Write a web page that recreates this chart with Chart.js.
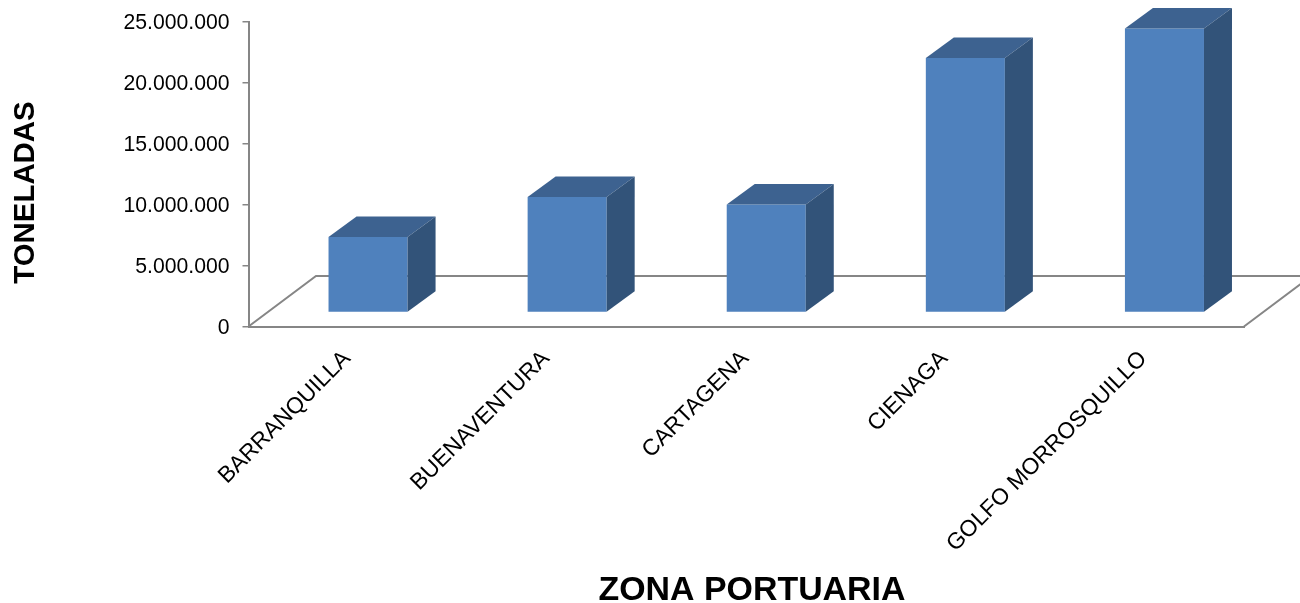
<!DOCTYPE html>
<html><head><meta charset="utf-8">
<style>html,body{margin:0;padding:0;background:#fff}#w{width:1300px;height:603px;position:relative}</style>
<script src="https://cdn.jsdelivr.net/npm/chart.js@4"></script></head>
<body><div id="w"><canvas id="c"></canvas></div>
<script>
const categories = ["BARRANQUILLA","BUENAVENTURA","CARTAGENA","CIENAGA","GOLFO MORROSQUILLO"];
const toneladas = [6190000,9470000,8850000,20860000,23280000];
const yTitle = "TONELADAS";
const xTitle = "ZONA PORTUARIA";
const FONT = '"Liberation Sans", Arial, sans-serif';
const AXIS = '#868686';
const FRONT = '#4F81BD', TOP = '#3D6290', SIDE = '#325379';
const FLOOR = {dx:67.5, dy:50.5}, SHIFT = {dx:20, dy:14}, BAR = {dx:28, dy:20.5};

function poly(ctx, pts, fill){ctx.beginPath();pts.forEach((p,i)=>i?ctx.lineTo(p[0],p[1]):ctx.moveTo(p[0],p[1]));ctx.closePath();ctx.fillStyle=fill;ctx.fill();}

const depth3d = {
  id:'depth3d',
  beforeDatasetsDraw(chart){
    const {ctx,chartArea:a}=chart;
    ctx.save();
    ctx.strokeStyle=AXIS;ctx.lineWidth=2;
    ctx.beginPath();
    ctx.moveTo(a.left,a.bottom);ctx.lineTo(a.left+FLOOR.dx,a.bottom-FLOOR.dy);
    ctx.lineTo(a.right+FLOOR.dx,a.bottom-FLOOR.dy);ctx.lineTo(a.right,a.bottom);
    ctx.stroke();
    ctx.restore();
    ctx.save();
    ctx.translate(SHIFT.dx,-SHIFT.dy);
  },
  afterDatasetsDraw(chart){
    const {ctx}=chart;
    chart.getDatasetMeta(0).data.forEach(b=>{
      const p=b.getProps(['x','y','base','width'],true);
      const l=p.x-p.width/2,r=p.x+p.width/2;
      poly(ctx,[[l,p.y],[r,p.y],[r+BAR.dx,p.y-BAR.dy],[l+BAR.dx,p.y-BAR.dy]],TOP);
      poly(ctx,[[r,p.y],[r+BAR.dx,p.y-BAR.dy],[r+BAR.dx,p.base-BAR.dy],[r,p.base]],SIDE);
    });
    ctx.restore();
  },
  afterDraw(chart){
    const {ctx}=chart;
    ctx.save();
    ctx.fillStyle='#000';ctx.textAlign='center';ctx.textBaseline='middle';
    ctx.font='bold 33.9px '+FONT;
    ctx.fillText(xTitle,752,591);
    ctx.translate(26,192.5);ctx.rotate(-Math.PI/2);
    ctx.font='bold 29.4px '+FONT;
    ctx.fillText(yTitle,0,0);
    ctx.restore();
  }
};

new Chart(document.getElementById('c'),{
  type:'bar',
  data:{labels:categories,datasets:[{label:yTitle,data:toneladas,backgroundColor:FRONT,borderWidth:0,barPercentage:0.397,categoryPercentage:1,clip:false}]},
  plugins:[depth3d],
  options:{
    responsive:true,maintainAspectRatio:false,animation:false,
    layout:{padding:{top:21.5,left:0,right:56,bottom:0}},
    plugins:{legend:{display:false},tooltip:{enabled:false},title:{display:false}},
    scales:{
      x:{
        afterFit(s){s.height=276.5;s.paddingLeft=0;s.paddingRight=0;},
        grid:{display:false,drawTicks:false},
        border:{display:true,color:AXIS,width:2},
        ticks:{font:{family:FONT,size:22.8},color:'#000',minRotation:45,maxRotation:45,padding:19,labelOffset:-1,autoSkip:false}
      },
      y:{
        min:0,max:25000000,
        afterFit(s){s.width=248.5;s.paddingTop=0;s.paddingBottom=0;},
        grid:{drawOnChartArea:false,color:AXIS,lineWidth:1.5,tickLength:6},
        border:{display:true,color:AXIS,width:2},
        ticks:{stepSize:5000000,font:{family:FONT,size:21.2},color:'#000',padding:13,labelOffset:2,
          callback:v=>String(v).replace(/\B(?=(\d{3})+$)/g,'.')}
      }
    }
  }
});
</script></body></html>
